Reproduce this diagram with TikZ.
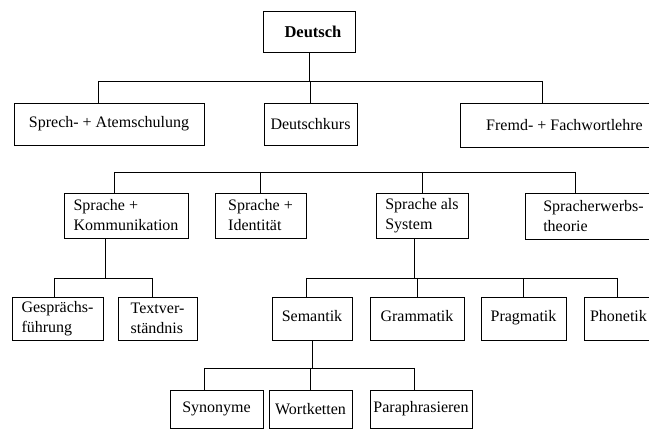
\documentclass[tikz,border=0pt]{standalone}
\usepackage{fontspec}
\setmainfont{Liberation Serif}

\tikzset{every picture/.style={line width=0.9pt}}
\tikzset{
  kasten/.style={draw, inner sep=0pt, align=left, font=\fontsize{16}{20}\selectfont},
  leiste/.style={line width=0.9pt}
}

\begin{document}
\begin{tikzpicture}[x=1pt,y=1pt,yscale=-1,xscale=1]
\useasboundingbox (0,0) rectangle (649,430);
\clip (0,0) rectangle (649,430);

% Text Node
\node [kasten, minimum width=92pt, minimum height=41pt, font=\fontsize{16.5}{20}\selectfont\bfseries] (deutsch) at (309,31.5) {\hspace{8pt}Deutsch};

% Text Node
\node [kasten, minimum width=190pt, minimum height=42pt] (sprech) at (109,124) {Sprech- + Atemschulung};
\node [kasten, minimum width=93pt, minimum height=42pt] (kurs) at (310.5,124) {Deutschkurs};
\node [kasten, minimum width=209pt, minimum height=44pt] (fremd) at (564.5,125) {Fremd- + Fachwortlehre};

% Text Node
\node [kasten, minimum width=124pt, minimum height=45pt] (komm) at (126,215.5) {Sprache +\\Kommunikation};
\node [kasten, minimum width=91pt, minimum height=45pt] (ident) at (260.5,215.5) {Sprache +\\Identität};
\node [kasten, minimum width=92pt, minimum height=45pt] (system) at (422,215.5) {Sprache als\\System};
\node [kasten, minimum width=132pt, minimum height=46pt, anchor=north west] (erwerb) at (525,193) {\hspace{4pt}Spracherwerbs-\\\hspace{4pt}theorie};

% Text Node
\node [kasten, minimum width=91pt, minimum height=43pt] (gespr) at (57.5,318.5) {Gesprächs-\\führung};
\node [kasten, minimum width=79pt, minimum height=43pt] (textv) at (157.5,318.5) {Textver-\\ständnis};
\node [kasten, minimum width=80pt, minimum height=43pt] (sem) at (312,318.5) {\raisebox{5pt}{Semantik}};
\node [kasten, minimum width=94pt, minimum height=43pt] (gram) at (417,318.5) {\raisebox{5pt}{Grammatik}};
\node [kasten, minimum width=85pt, minimum height=43pt] (prag) at (523.5,318.5) {\raisebox{5pt}{Pragmatik}};
\node [kasten, minimum width=68pt, minimum height=43pt, anchor=north west] (phon) at (584,297) {\raisebox{5pt}{Phonetik}};

% Text Node
\node [kasten, minimum width=93pt, minimum height=38pt] (syn) at (216.5,409) {Synonyme};
\node [kasten, minimum width=83pt, minimum height=38pt] (wort) at (310.5,409) {Wortketten};
\node [kasten, minimum width=102pt, minimum height=38pt] (para) at (421,409) {Paraphrasieren};

% bus lines
\coordinate (bA) at (98,81);   \coordinate (bB) at (542,81);
\coordinate (cA) at (114,172); \coordinate (cB) at (575,172);
\coordinate (dA) at (54,278);  \coordinate (dB) at (152,278);
\coordinate (eA) at (306,278); \coordinate (eB) at (617,278);
\coordinate (fA) at (204,368); \coordinate (fB) at (414,368);

\draw [leiste] (bA) -- (bB);
\draw (deutsch.south) -- (deutsch.south |- bA);
\draw (bA) -- (bA |- sprech.north);
\draw (kurs.north |- bA) -- (kurs.north);
\draw (bB) -- (bB |- fremd.north);

\draw [leiste] (cA) -- (cB);
\draw (cA) -- (cA |- komm.north);
\draw (ident.north |- cA) -- (ident.north);
\draw (system.north |- cA) -- (system.north);
\draw (cB) -- (cB |- erwerb.north);

\draw [leiste] (dA) -- (dB);
\draw ([xshift=-21pt]komm.south) -- ([xshift=-21pt]komm.south |- dA);
\draw (dA) -- (dA |- gespr.north);
\draw (dB) -- (dB |- textv.north);

\draw [leiste] (eA) -- (eB);
\draw ([xshift=-8pt]system.south) -- ([xshift=-8pt]system.south |- eA);
\draw (eA) -- (eA |- sem.north);
\draw (gram.north |- eA) -- (gram.north);
\draw (prag.north |- eA) -- (prag.north);
\draw (eB) -- (eB |- phon.north);

\draw [leiste] (fA) -- (fB);
\draw (sem.south) -- (sem.south |- fA);
\draw (fA) -- (fA |- syn.north);
\draw (wort.north |- fA) -- (wort.north);
\draw (fB) -- (fB |- para.north);

\end{tikzpicture}
\end{document}
